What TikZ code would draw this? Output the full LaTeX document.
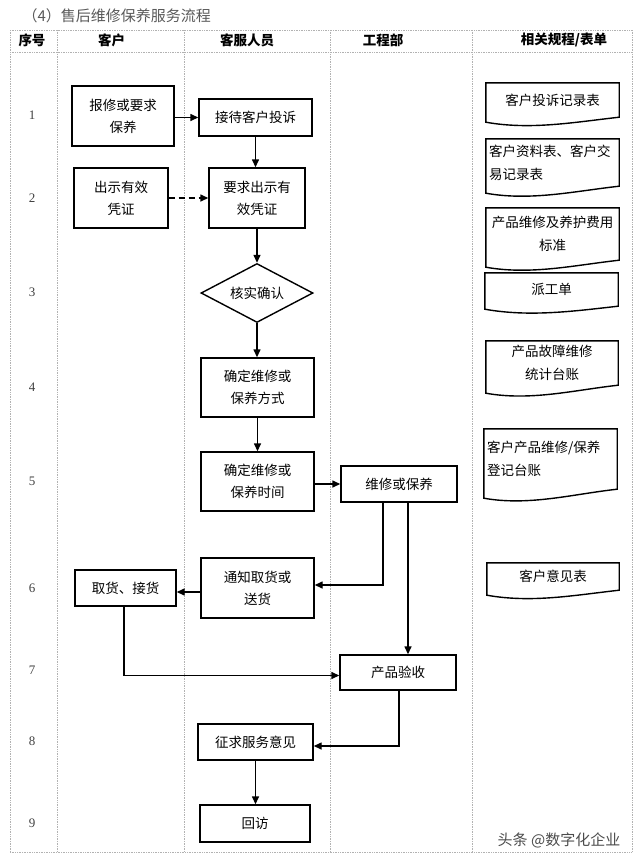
\documentclass[tikz,border=0pt]{standalone}
\usepackage{fontspec}
\setmainfont{Noto Sans CJK SC}
\newfontfamily\numfont{Liberation Serif}
\usepackage{tikz}
\usetikzlibrary{shapes.geometric,arrows.meta,calc}

\begin{document}
\begin{tikzpicture}[x=1pt,y=-1pt,
        box/.style={draw,line width=1.4pt,inner sep=2pt,align=center,font=\fontsize{13.5}{22}\selectfont},
        docbox/.style={inner sep=3pt,font=\fontsize{13.5}{23}\selectfont},
        head/.style={font=\fontsize{13.5}{16}\selectfont\bfseries},
        rownum/.style={font=\numfont\fontsize{13}{15}\selectfont,text=black!75},
        gridline/.style={draw=black!30,densely dotted,line width=0.7pt},
        flow/.style={line width=1.4pt,-{Triangle[length=8pt,width=7pt]}},
        docline/.style={line width=1.4pt}]

    \useasboundingbox (0,0) rectangle (640,863);

    \foreach \x in {10,57,184,330,472,632}
        \draw[gridline] (\x,30) -- (\x,852);
    \foreach \y in {30,52,852}
        \draw[gridline] (10,\y) -- (632,\y);

    \node[anchor=west,font=\fontsize{15}{18}\selectfont,text=black!65] (title) at (19,16) {（4）售后维修保养服务流程};

    \node[head] (h1) at (32,40) {序号};
    \node[head] (h2) at (111.5,40) {客户};
    \node[head] (h3) at (247,40) {客服人员};
    \node[head] (h4) at (383,40) {工程部};
    \node[head] (h5) at (564,40) {相关规程/表单};

    \foreach \n/\y in {1/115,2/198,3/292,4/387,5/481,6/588,7/670,8/741,9/823}
        \node[rownum] (row\n) at (32,\y) {\n};

    \node[box,minimum width=102pt,minimum height=60pt] (repair) at (123,116) {报修或要求\\保养};
    \node[box,minimum width=113pt,minimum height=37pt] (receive) at (255.5,117.5) {接待客户投诉};
    \node[box,minimum width=94pt,minimum height=60pt] (show) at (121,198) {出示有效\\凭证};
    \node[box,minimum width=96pt,minimum height=60pt] (ask) at (257,198) {要求出示有\\效凭证};
    \node[box,diamond,aspect=1.9,inner sep=0pt,minimum width=112pt,minimum height=59pt] (check) at (257,293) {核实确认};
    \node[box,minimum width=113pt,minimum height=59pt] (mode) at (257.5,387.5) {确定维修或\\保养方式};
    \node[box,minimum width=113pt,minimum height=59pt] (time) at (257.5,481.5) {确定维修或\\保养时间};
    \node[box,minimum width=116pt,minimum height=36pt] (service) at (399,484) {维修或保养};
    \node[box,minimum width=113pt,minimum height=60pt] (notify) at (257.5,588) {通知取货或\\送货};
    \node[box,minimum width=101pt,minimum height=36pt] (pickup) at (125.5,588) {取货、接货};
    \node[box,minimum width=116pt,minimum height=35pt] (accept) at (398,672.5) {产品验收};
    \node[box,minimum width=115pt,minimum height=36pt] (opinion) at (255.5,742) {征求服务意见};
    \node[box,minimum width=110pt,minimum height=37pt] (revisit) at (255,823.5) {回访};

    \node[docbox,minimum width=133pt,minimum height=34pt,text width=127pt,align=center] (complaint) at (552.5,100) {客户投诉记录表};
    \node[docbox,minimum width=133pt,minimum height=47pt,text width=127pt,align=left] (custdata) at (552.5,162.5) {客户资料表、客户交\\易记录表};
    \node[docbox,minimum width=133pt,minimum height=52pt,text width=127pt,align=center] (feestd) at (552.5,234) {产品维修及养护费用\\标准};
    \node[docbox,minimum width=133pt,minimum height=33pt,text width=127pt,align=center] (dispatch) at (551.5,289.5) {派工单};
    \node[docbox,minimum width=132pt,minimum height=44pt,text width=126pt,align=center] (faultlog) at (552,363) {产品故障维修\\统计台账};
    \node[docbox,minimum width=133pt,minimum height=60pt,text width=127pt,align=left] (repairlog) at (550.5,459) {客户产品维修/保养\\登记台账};
    \node[docbox,minimum width=132pt,minimum height=27pt,text width=126pt,align=center] (opinionform) at (553,576.5) {客户意见表};

    \foreach \doc/\drop in {complaint/5,custdata/7,feestd/7,dispatch/3,faultlog/8,repairlog/9,opinionform/5}
        \draw[docline] (\doc.south east) .. controls ($(\doc.south east)+(-45,5)$) and ($(\doc.south west)+(45,\drop+8)$) .. ($(\doc.south west)+(0,\drop)$) -- (\doc.north west) -- (\doc.north east) -- cycle;

    \draw[flow] (repair.east |- receive.west) -- (receive.west);
    \draw[flow] (receive.south) -- (receive.south |- ask.north);
    \draw[flow,dash pattern=on 6pt off 4pt] (show.east) -- (ask.west);
    \draw[flow] (ask) -- (check);
    \draw[flow] (check.south) -- (check.south |- mode.north);
    \draw[flow] (mode) -- (time);
    \draw[flow] (time.east |- service.west) -- (service.west);
    \draw[flow] ([xshift=-16pt]service.south) |- ([yshift=3pt]notify.east);
    \draw[flow] ([xshift=9pt]service.south) -- ([xshift=9pt]service.south |- accept.north);
    \draw[flow] ([yshift=-4pt]notify.west) -- ([yshift=-4pt]notify.west -| pickup.east);
    \draw[flow] ([xshift=-1.5pt]pickup.south) |- ([yshift=-3pt]accept.west);
    \draw[flow] ([xshift=1pt]accept.south) |- ([yshift=-4pt]opinion.east);
    \draw[flow] (opinion.south) -- (opinion.south |- revisit.north);

    \node[font=\fontsize{15}{18}\selectfont,text=black!70] (mark) at (559,840) {头条 @数字化企业};
\end{tikzpicture}
\end{document}
